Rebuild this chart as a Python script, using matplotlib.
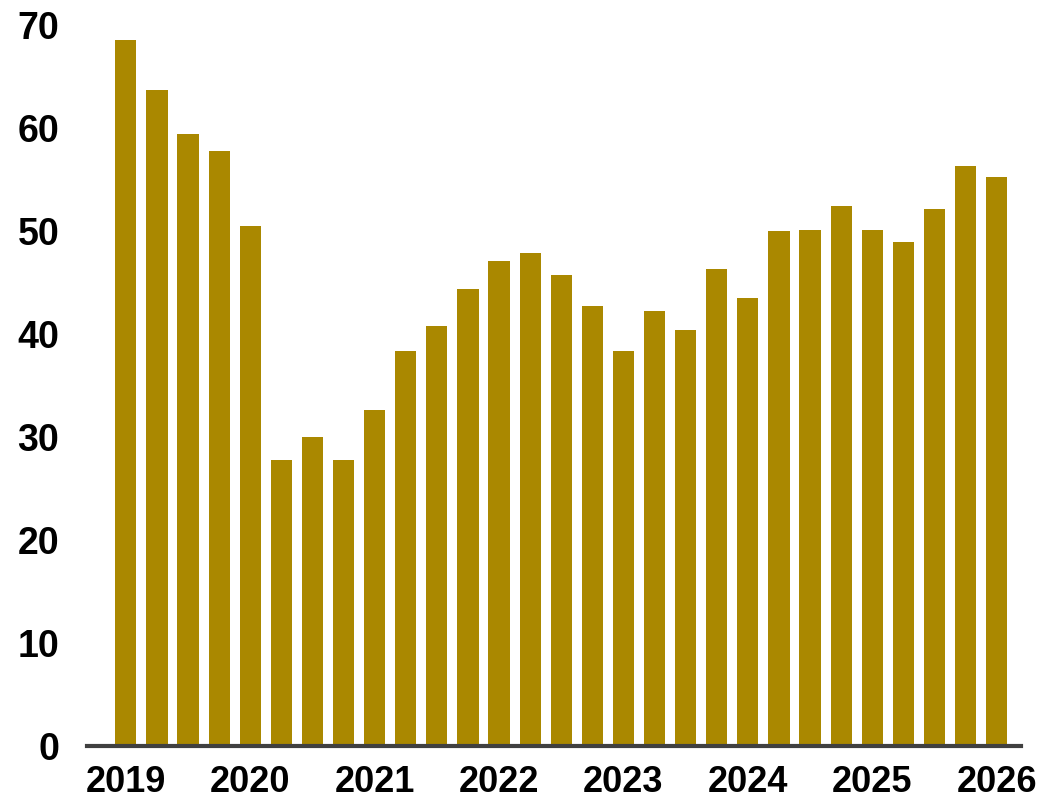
import matplotlib.pyplot as plt
import numpy as np

plt.rcParams['font.family'] = ['Liberation Sans', 'DejaVu Sans']

# quarterly values, 2019Q1 .. 2026Q1
values = [68.5, 63.7, 59.4, 57.8, 50.5,
          27.8, 30.0, 27.8, 32.6, 38.3,
          40.8, 44.4, 47.1, 47.9, 45.7,
          42.7, 38.3, 42.2, 40.4, 46.3,
          43.5, 50.0, 50.1, 52.4, 50.1,
          48.9, 52.1, 56.3, 55.2]
year_labels = ["2019", "2020", "2021", "2022", "2023", "2024", "2025", "2026"]
yticks = [0, 10, 20, 30, 40, 50, 60, 70]

x = np.arange(len(values))

fig = plt.figure(figsize=(10.38, 8.01), dpi=100)
ax = fig.add_axes([0.0838, 0.0687, 0.9, 0.9001])
ax.bar(x, values, width=0.68, color="#AA8800", zorder=2)

ax.set_xlim(-1.25, len(values) - 1 + 0.79)
ax.set_ylim(0, 70)
ax.set_yticks(yticks)
ax.set_yticklabels([str(t) for t in yticks], fontsize=27, fontweight="bold")
ax.set_xticks(x[::4])
ax.set_xticklabels(year_labels, fontsize=26, fontweight="bold")
ax.tick_params(axis="y", length=0, pad=20)
ax.tick_params(axis="x", length=0, pad=14)

for s in ["top", "right", "left"]:
    ax.spines[s].set_visible(False)
ax.spines["bottom"].set_linewidth(3)
ax.spines["bottom"].set_color("#404040")
ax.spines["bottom"].set_zorder(3)

fig.savefig("out.png", dpi=100)
